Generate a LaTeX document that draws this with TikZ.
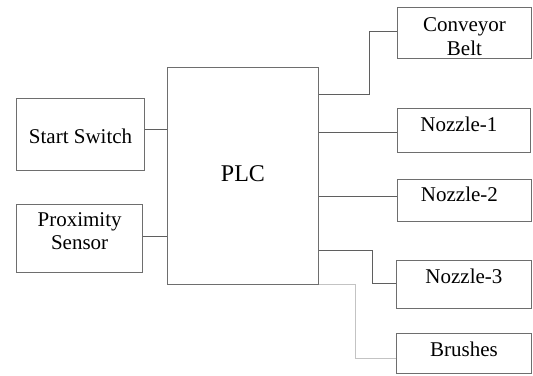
\documentclass[tikz,border=0pt]{standalone}
\usepackage{fontspec}
\setmainfont{Liberation Serif}
\usepackage{tikz}
\usetikzlibrary{positioning,calc}
\usepackage{xcolor}
\definecolor{boxgrey}{RGB}{110,110,110}
\definecolor{wiregrey}{RGB}{95,95,95}
\definecolor{palegrey}{RGB}{195,195,195}

\begin{document}
\begin{tikzpicture}[x=1pt, y=-1pt,
    unit/.style={rectangle, draw=boxgrey, line width=0.9pt, inner sep=0pt,
        anchor=north west, align=center,
        font=\fontsize{21pt}{23.5pt}\selectfont},
    ctrl/.style={unit, font=\fontsize{24pt}{28pt}\selectfont},
    wire/.style={line width=0.9pt, wiregrey},
    pwire/.style={line width=0.9pt, palegrey}
]
    \useasboundingbox (0,0) rectangle (533,375);

    % Controller
    \node[ctrl, minimum width=151pt, text height=114.3pt, text depth=103pt]
        (plc) at (167,66.7) {PLC};

    % Inputs
    \node[unit, minimum width=127.7pt, text height=45pt, text depth=26.7pt]
        (start) at (16.3,98.3) {Start Switch};
    \node[unit, minimum width=125.7pt, text height=45.3pt, text depth=23pt]
        (prox) at (16.3,204) {Proximity\\Sensor};

    % Outputs
    \node[unit, minimum width=134pt, text height=48pt, text depth=3.3pt]
        (belt) at (397,7) {Conveyor\\Belt};
    \node[unit, minimum width=133pt, text height=23.5pt, text depth=20.5pt]
        (noz1) at (397,107.5) {Nozzle-1\hspace*{10pt}};
    \node[unit, minimum width=134pt, text height=22pt, text depth=19.7pt]
        (noz2) at (397,179) {Nozzle-2\hspace*{10pt}};
    \node[unit, minimum width=135pt, text height=22.7pt, text depth=25.6pt]
        (noz3) at (396,260) {Nozzle-3};
    \node[unit, minimum width=135pt, text height=22.7pt, text depth=17.3pt]
        (brush) at (396,333.3) {Brushes};

    \draw[wire] ([yshift=5pt]start.east) -- ([yshift=5pt]plc.west |- start.east);
    \draw[wire] ([yshift=2pt]prox.east) -- ([yshift=2pt]plc.west |- prox.east);

    \draw[wire] ([yshift=-27.3pt]plc.north east) -- ++(50.5,0) |- ([yshift=1.6pt]belt.west);
    \draw[wire] ([yshift=-2pt]plc.east |- noz1.west) -- ([yshift=-2pt]noz1.west);
    \draw[wire] ([yshift=3.8pt]plc.east |- noz2.west) -- ([yshift=3.8pt]noz2.west);
    \draw[wire] ([yshift=34pt]plc.south east) -- ++(53.5,0) |- ([yshift=1.6pt]noz3.west);
    \draw[pwire] (plc.south east) -- ++(37,0) |- ([yshift=-4.7pt]brush.west);
\end{tikzpicture}
\end{document}
